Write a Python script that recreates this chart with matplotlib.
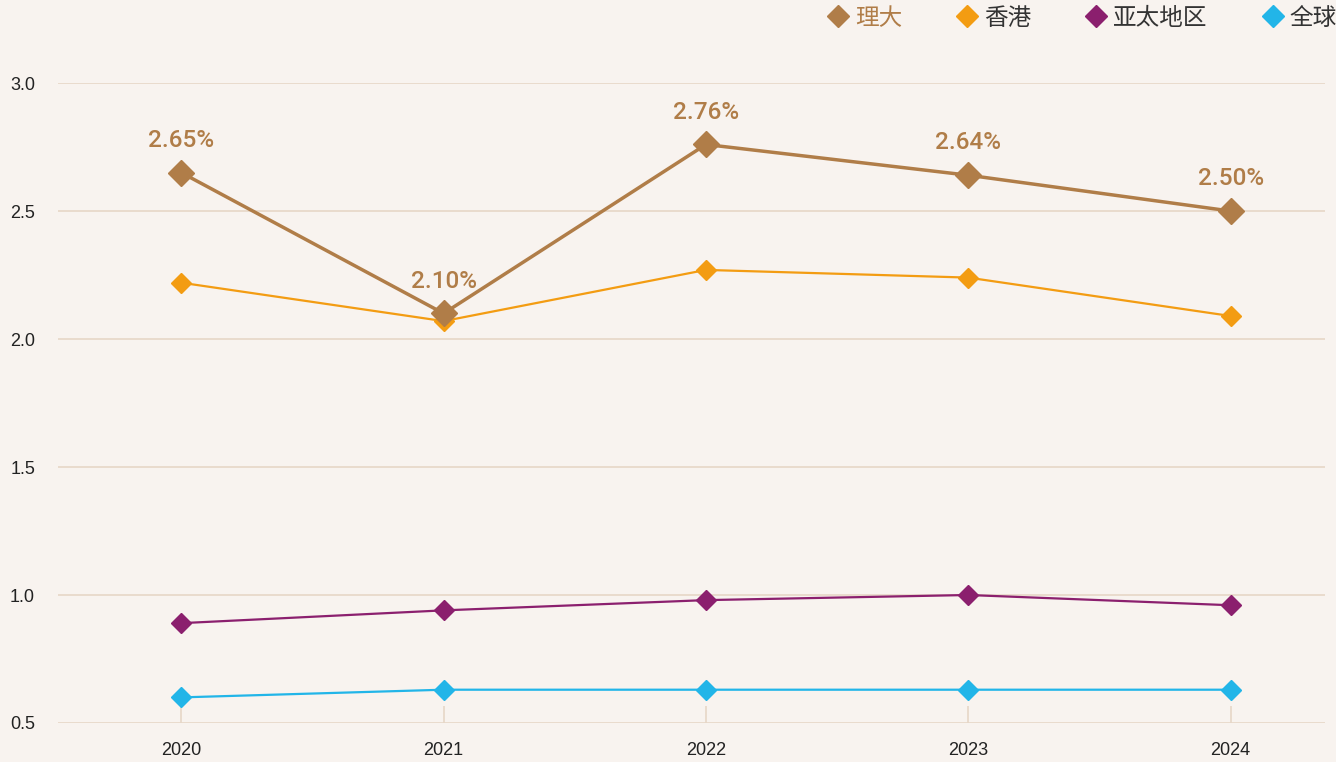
import matplotlib
matplotlib.use("Agg")
import matplotlib.pyplot as plt
from matplotlib.lines import Line2D

# 数据
years = [2020, 2021, 2022, 2023, 2024]
polyu = [2.65, 2.10, 2.76, 2.64, 2.50]
hongkong = [2.22, 2.07, 2.27, 2.24, 2.09]
asia_pacific = [0.89, 0.94, 0.98, 1.00, 0.96]
world = [0.60, 0.63, 0.63, 0.63, 0.63]
series_names = ["理大", "香港", "亚太地区", "全球"]
y_ticks = [0.5, 1.0, 1.5, 2.0, 2.5, 3.0]

c_polyu = "#b07d48"
c_hk = "#f39c12"
c_ap = "#8b1f6e"
c_world = "#22b5e8"
bg = "#f8f3ef"
grid_c = "#e6d7c7"

plt.rcParams['font.family'] = ['Liberation Sans', 'Noto Sans CJK SC', 'DejaVu Sans']

fig = plt.figure(figsize=(13.36, 7.62), dpi=100, facecolor=bg)
ax = fig.add_axes([0.0434, 0.0512, 0.9484, 0.8398], facecolor=bg)

ax.plot(years, world, color=c_world, lw=1.6, marker="D", ms=10.5, zorder=3)
ax.plot(years, asia_pacific, color=c_ap, lw=1.6, marker="D", ms=10.5, zorder=3)
ax.plot(years, hongkong, color=c_hk, lw=1.6, marker="D", ms=10.5, zorder=4)
ax.plot(years, polyu, color=c_polyu, lw=2.5, marker="D", ms=13.5, zorder=5)

for x, v in zip(years, polyu):
    ax.annotate(f"{v:.2f}%", (x, v), xytext=(0, 15), textcoords="offset points",
                ha="center", va="bottom", color=c_polyu, fontsize=17.5,
                family=["Roboto", "Liberation Sans"], fontweight="medium")

ax.set_xlim(2019.53, 2024.36)
ax.set_ylim(0.5, 3.0)
ax.set_yticks(y_ticks)
ax.set_yticklabels([f"{t:.1f}" for t in y_ticks])
ax.set_xticks(years)
ax.set_xticklabels([str(y) for y in years])
ax.grid(axis="y", color=grid_c, lw=1.2, zorder=0)
ax.set_axisbelow(True)
for s in ax.spines.values():
    s.set_visible(False)
ax.tick_params(axis="y", length=0, pad=16.5, labelsize=13, labelcolor="#222222")
ax.tick_params(axis="x", direction="in", length=12.5, width=1.2, color=grid_c,
               pad=14, labelsize=13, labelcolor="#222222")

handles = [
    Line2D([], [], color=c_polyu, marker="D", ls="none", ms=11.5),
    Line2D([], [], color=c_hk, marker="D", ls="none", ms=11.5),
    Line2D([], [], color=c_ap, marker="D", ls="none", ms=11.5),
    Line2D([], [], color=c_world, marker="D", ls="none", ms=11.5),
]
leg = fig.legend(handles, series_names, loc="upper left", bbox_to_anchor=(0.6201, 0.99),
                 ncol=4, frameon=False, fontsize=17, handlelength=0.8,
                 handletextpad=0.32, columnspacing=2.35, borderpad=0,
                 borderaxespad=0)
for i, t in enumerate(leg.get_texts()):
    t.set_color(c_polyu if i == 0 else "#333333")

fig.savefig("out.png", dpi=100, facecolor=bg)
